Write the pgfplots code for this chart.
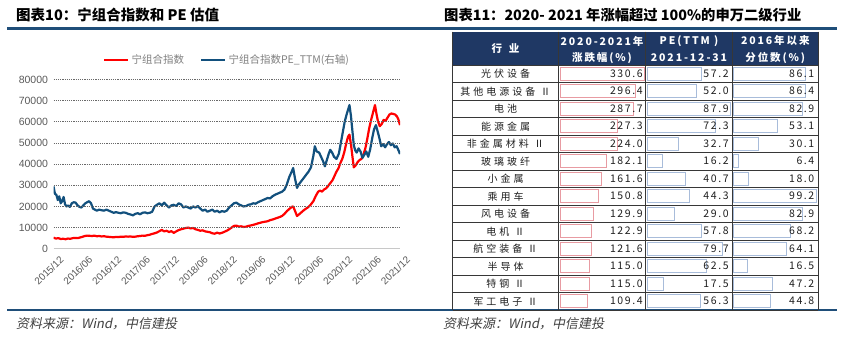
\documentclass[border=0pt]{standalone}
\usepackage{pgfplots}
\pgfplotsset{compat=1.18}
\usepackage{pgfplotstable}
\usepackage{fontspec}
\setmainfont{Liberation Sans}
\newfontfamily\cjk{Noto Sans CJK SC}
\newfontfamily\cjkit[FakeSlant=0.2]{Noto Sans CJK SC}
\newfontfamily\cjkname[LetterSpace=30]{Noto Sans CJK SC}
\newfontfamily\cjkval[LetterSpace=15]{Noto Sans CJK SC}
\newfontfamily\cjkhead[LetterSpace=18]{Noto Sans CJK SC}

\definecolor{redl}{RGB}{255,0,0}
\definecolor{bluel}{RGB}{18,80,125}
\definecolor{rulec}{RGB}{31,78,121}
\definecolor{navy}{RGB}{31,56,100}
\definecolor{pinkb}{RGB}{232,155,162}
\definecolor{blueb}{RGB}{168,188,218}
\definecolor{tickc}{RGB}{89,89,89}
\definecolor{legc}{RGB}{127,127,127}
\definecolor{gridc}{RGB}{105,105,105}
\definecolor{basec}{RGB}{200,200,200}
\definecolor{linec}{RGB}{55,55,55}
\definecolor{txtc}{RGB}{30,30,30}
\definecolor{srcc}{RGB}{64,64,64}

\pgfplotstableread{
r chg pe pct
0 330.6 57.2 86.1
1 296.4 52.0 86.4
2 287.7 87.9 82.9
3 227.3 72.3 53.1
4 224.0 32.7 30.1
5 182.1 16.2 6.4
6 161.6 40.7 18.0
7 150.8 44.3 99.2
8 129.9 29.0 82.9
9 122.9 57.8 68.2
10 121.6 79.7 64.1
11 115.0 62.5 16.5
12 115.0 17.5 47.2
13 109.4 56.3 44.8
}\tbl

\pgfplotsset{
  tcol/.style={
    scale only axis, height=245pt, ymin=-0.5, ymax=13.5, y dir=reverse,
    axis line style={draw=none}, major tick length=0pt,
    xtick=\empty, ytick=\empty, clip=false, anchor=north west
  },
  vallab/.style={draw=none, point meta=explicit,
    nodes near coords={\pgfmathprintnumber[fixed,fixed zerofill,precision=1,assume math mode=true]{\pgfplotspointmeta}},
    nodes near coords style={anchor=east, font=\cjkval\fontsize{10.5}{12}\selectfont, text=txtc, inner sep=1.5pt}}
}

\begin{document}
\begin{tikzpicture}
\useasboundingbox (0pt,0pt) rectangle (852pt,-345pt);

% titles and rules
\node[anchor=base west, inner sep=0pt, font=\cjk\bfseries\fontsize{14.5}{16}\selectfont] at (16pt,-20.5pt) {图表10：宁组合指数和 PE 估值};
\node[anchor=base west, inner sep=0pt, font=\cjk\bfseries\fontsize{14.3}{16}\selectfont] at (444pt,-20.5pt) {图表11：2020- 2021 年涨幅超过 100\%的申万二级行业};
\draw[rulec, line width=2.4pt] (7pt,-28.5pt) -- (837pt,-28.5pt);
\draw[rulec, line width=1.6pt] (7pt,-309.8pt) -- (837pt,-309.8pt);
\node[anchor=base west, inner sep=0pt, text=srcc, font=\cjkit\fontsize{13}{15}\selectfont] at (16pt,-328pt) {资料来源：Wind，中信建投};
\node[anchor=base west, inner sep=0pt, text=srcc, font=\cjkit\fontsize{13}{15}\selectfont] at (443pt,-328pt) {资料来源：Wind，中信建投};

% left chart
\begin{axis}[
  at={(53.5pt,-248.7pt)}, anchor=south west,
  scale only axis, width=346.5pt, height=169pt,
  xmin=0, xmax=72, ymin=0, ymax=80000,
  axis line style={draw=none},
  tick style={draw=none},
  ytick={0,10000,20000,30000,40000,50000,60000,70000,80000},
  scaled y ticks=false,
  /pgf/number format/assume math mode=true,
  /pgf/number format/1000 sep={},
  yticklabel style={font=\fontsize{10.5}{12}\selectfont, text=tickc, xshift=-2pt},
  xtick={0,6,12,18,24,30,36,42,48,54,60,66,72},
  xticklabels={2015/12,2016/06,2016/12,2017/06,2017/12,2018/06,2018/12,2019/06,2019/12,2020/06,2020/12,2021/06,2021/12},
  xticklabel style={rotate=45, anchor=north east, font=\fontsize{10}{12}\selectfont, text=tickc, xshift=3pt, yshift=-5pt},
  legend columns=2,
  legend style={at={(rel axis cs:0.142,1.117)}, anchor=west, draw=none, fill=none, inner sep=0pt,
    font=\cjk\fontsize{10.5}{12}\selectfont, text=legc,
    /tikz/every even column/.append style={column sep=14pt}},
  legend image code/.code={\draw[#1, line width=2.6pt] (0pt,0pt) -- (24pt,0pt);},
]
\addplot[redl, line width=2.2pt, line join=round] table {
x y
0 5200
0.5 4800
1 5000
1.5 4600
2 4700
2.5 4500
3 4800
3.5 4700
4 5000
4.5 5100
5 5000
5.5 5300
6 5600
6.5 6000
7 6200
7.5 6100
8 6000
8.5 6200
9 5900
9.5 6000
10 5800
10.5 5900
11 5700
11.5 5600
12 5500
12.5 5400
13 5600
13.5 5500
14 5700
14.5 5600
15 5800
15.5 5700
16 5800
16.5 5600
17 5700
17.5 5900
18 6000
18.5 6200
19 6100
19.5 6400
20 6600
20.5 7000
21 7300
21.5 7700
22 8300
22.5 8900
23 8200
23.5 8500
24 7900
24.5 8300
25 7500
25.5 8200
26 8800
26.5 9200
27 9500
27.5 9800
28 10000
28.5 9600
29 9800
29.5 9200
30 8900
30.5 8500
31 8700
31.5 8200
32 8000
32.5 7800
33 7300
33.5 7100
34 7600
34.5 7200
35 7500
35.5 8000
36 8500
36.5 9200
37 10000
37.5 10800
38 10900
38.5 10500
39 10600
39.5 10300
40 10400
40.5 10800
41 11000
41.5 11300
42 11600
42.5 12000
43 12300
43.5 12600
44 12800
44.5 13000
45 13500
45.5 13800
46 14200
46.5 14600
47 15000
47.5 15500
48 16500
48.5 17800
49 18800
49.5 19800
49.8 20000
50.2 17800
50.6 15500
51.0 16200
51.5 17200
52.0 18200
52.5 19000
53.0 19800
53.5 21000
54.0 22500
54.5 25000
55.0 27000
55.4 27500
55.8 27000
56.2 28000
56.6 28500
57.0 29500
57.5 31000
58.0 32500
58.4 34500
58.8 36500
59.2 38000
59.6 40500
60.0 42500
60.4 45500
60.8 49500
61.2 53000
61.5 54000
61.8 49500
62.1 44000
62.4 38500
62.8 39500
63.2 41000
63.6 42000
64.0 42500
64.4 44500
64.8 47500
65.2 52000
65.6 57000
66.0 61000
66.4 64500
66.8 68000
67.1 64000
67.4 60500
67.8 58000
68.2 59000
68.6 61000
69.0 60500
69.4 62000
69.8 63500
70.2 64000
70.6 63800
71.0 63500
71.4 62500
71.7 61000
72.0 58500
};
\addlegendentry{宁组合指数}
\addplot[bluel, line width=2.2pt, line join=round] table {
x y
0 29500
0.3 26000
0.6 25500
0.9 23000
1.2 24800
1.5 21500
1.8 22500
2.1 24500
2.4 21000
2.7 20000
3.0 20500
3.4 19800
3.8 21500
4.2 22000
4.6 21800
5.0 20500
5.4 19800
5.8 19500
6.2 20500
6.6 21500
7.0 22000
7.4 22500
7.8 21500
8.2 19000
8.6 18500
9.0 18000
9.5 18500
10.0 18200
10.5 18000
11.0 18500
11.5 18000
12.0 17500
12.5 17000
13.0 17300
13.5 17000
14.0 16800
14.5 17200
15.0 17000
15.5 16500
16.0 16200
16.5 15800
17.0 16500
17.5 16800
18.0 16300
18.5 17000
19.0 17200
19.5 16800
20.0 17000
20.5 17500
21.0 20000
21.5 20800
22.0 21500
22.5 20500
23.0 21800
23.5 20500
24.0 19500
24.5 20500
25.0 20800
25.5 20200
26.0 21500
26.5 21000
27.0 19500
27.5 20000
28.0 19500
28.5 19000
29.0 20000
29.5 19500
30.0 20200
30.5 19000
31.0 18000
31.5 18500
32.0 17500
32.5 18000
33.0 18500
33.5 17500
34.0 18000
34.5 17200
35.0 17800
35.5 17500
36.0 18000
36.5 19500
37.0 20500
37.5 21500
38.0 21800
38.5 21000
39.0 20500
39.5 20000
40.0 20200
40.5 20800
41.0 21000
41.5 21500
42.0 21300
42.5 22000
43.0 22500
43.5 23000
44.0 23500
44.5 24000
45.0 23800
45.5 24800
46.0 25500
46.5 26000
47.0 26500
47.5 27000
48.0 28000
48.5 30500
49.0 34000
49.5 36500
49.8 38200
50.2 33000
50.6 28800
51.0 30500
51.5 32000
52.0 33500
52.5 35000
53.0 36500
53.5 38500
54.0 44000
54.3 48500
54.7 46000
55.2 45500
55.6 43500
56.0 41500
56.4 39000
56.8 42000
57.2 45000
57.5 46800
57.9 45500
58.3 43500
58.8 42500
59.3 45000
59.7 50000
60.1 55000
60.5 60000
60.9 63500
61.3 66500
61.5 68000
61.8 63000
62.1 56000
62.4 49000
62.7 46500
63.0 45500
63.4 47500
63.8 46000
64.2 43000
64.6 44500
65.0 46000
65.4 43500
65.8 47000
66.2 52000
66.6 56500
67.0 58500
67.3 56000
67.7 52500
68.1 48500
68.5 49500
68.9 48000
69.3 49500
69.7 50500
70.1 49000
70.5 49800
70.9 48000
71.3 48500
71.7 46500
72.0 44800
};
\addlegendentry{宁组合指数PE\_TTM(右轴)}
\end{axis}

% horizontal grid lines of the left chart, drawn after the axis (10000 units = 21.125pt)
\foreach \k in {1,2,3,4,5,6,7,8} {
  \draw[gridc, line width=1pt, dash pattern=on 1.2pt off 1pt] (53.5pt,{-248.7pt+21.125pt*\k}) -- (400pt,{-248.7pt+21.125pt*\k});
}
\draw[basec, line width=1.4pt] (53.5pt,-248.7pt) -- (400pt,-248.7pt);

% table header
\fill[navy] (452.7pt,-31.7pt) rectangle (818.3pt,-65pt);
\begin{scope}[every node/.style={text=white, inner sep=0pt, font=\cjkhead\bfseries\fontsize{10.5}{12}\selectfont}]
\node at (505.5pt,-48.3pt) {行\hspace{7pt}业};
\node at (602pt,-41pt) {2020-2021年};
\node at (602pt,-58pt) {涨跌幅(\%)};
\node at (689pt,-41pt) {PE(TTM )};
\node at (689pt,-58pt) {2021-12-31};
\node at (775.3pt,-41pt) {2016年以来};
\node at (775.3pt,-58pt) {分位数(\%)};
\end{scope}

% column 1
\begin{axis}[tcol, at={(560pt,-65pt)}, width=84.3pt, xmin=0, xmax=330.6,
  ytick={0,1,2,3,4,5,6,7,8,9,10,11,12,13},
  yticklabels={光伏设备, 其他电源设备 Ⅱ, 电池, 能源金属, 非金属材料 Ⅱ, 玻璃玻纤, 小金属, 乘用车, 风电设备, 电机 Ⅱ, 航空装备 Ⅱ, 半导体, 特钢 Ⅱ, 军工电子 Ⅱ},
  yticklabel style={anchor=center, xshift=-54.5pt, font=\cjkname\fontsize{10}{12}\selectfont, text=txtc}]
\addplot[xbar, bar width=13pt, bar shift=0pt, fill=white, draw=pinkb, line width=1pt] table[x=chg, y=r] {\tbl};
\addplot[vallab] table[x expr=330.6, y=r, meta=chg] {\tbl};
\end{axis}

% column 2
\begin{axis}[tcol, at={(647.3pt,-65pt)}, width=83pt, xmin=0, xmax=87.9]
\addplot[xbar, bar width=13pt, bar shift=0pt, fill=white, draw=blueb, line width=1pt] table[x=pe, y=r] {\tbl};
\addplot[vallab] table[x expr=87.9, y=r, meta=pe] {\tbl};
\end{axis}

% column 3
\begin{axis}[tcol, at={(733.3pt,-65pt)}, width=82.7pt, xmin=0, xmax=99.2]
\addplot[xbar, bar width=13pt, bar shift=0pt, fill=white, draw=blueb, line width=1pt] table[x=pct, y=r] {\tbl};
\addplot[vallab] table[x expr=99.2, y=r, meta=pct] {\tbl};
\end{axis}

% table grid
\foreach \k in {0,...,14} {
  \draw[linec, line width=0.8pt] (452.7pt,{-65pt-17.5pt*\k}) -- (818.3pt,{-65pt-17.5pt*\k});
}
\foreach \xx in {452.7,558.3,645.7,732.3,818.3} {
  \draw[linec, line width=0.8pt] (\xx pt,-31.7pt) -- (\xx pt,-310pt);
}
\end{tikzpicture}
\end{document}
